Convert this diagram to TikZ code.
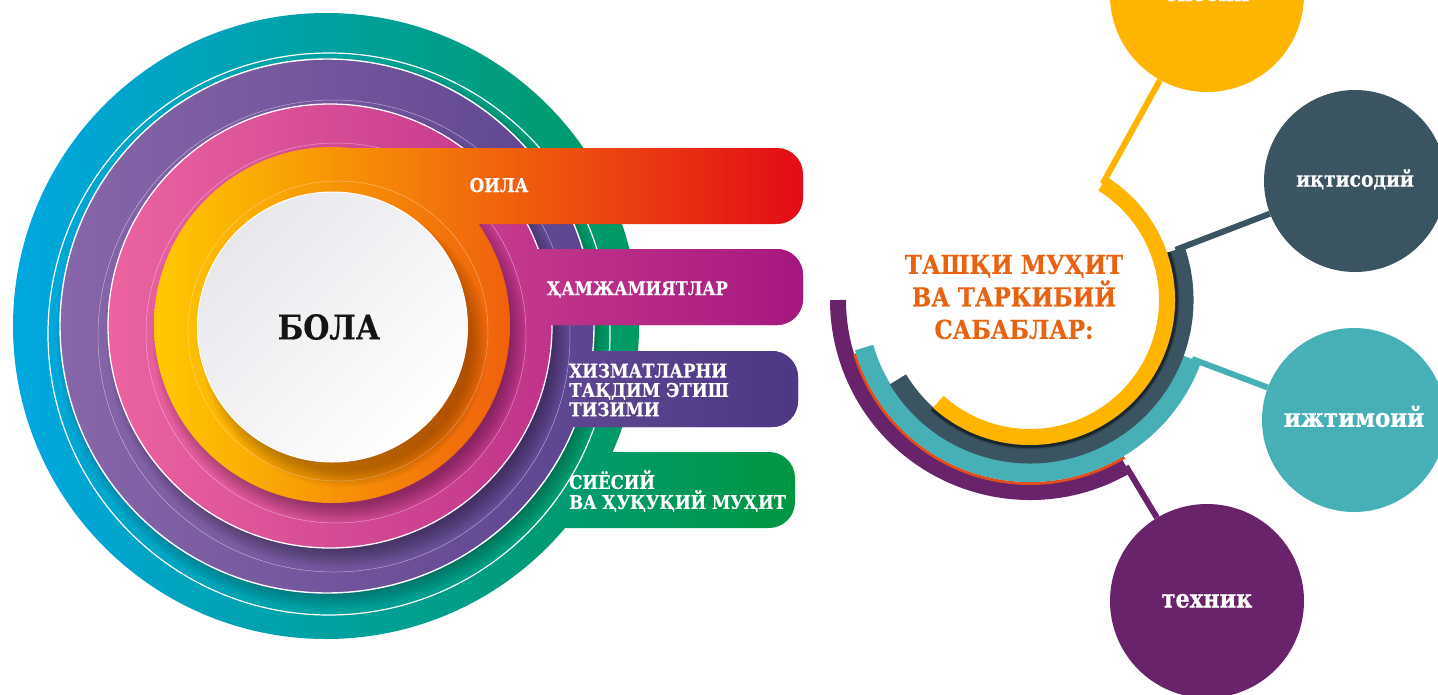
\documentclass[tikz,border=0pt]{standalone}
\usepackage{fontspec}
\setmainfont{DejaVu Serif}[FakeStretch=0.88, BoldFeatures={FakeBold=0.5}]
\usetikzlibrary{calc}
\definecolor{tealL}{HTML}{00A8E1}
\definecolor{tealM}{HTML}{00A09F}
\definecolor{tealR}{HTML}{00963F}
\definecolor{purL}{HTML}{8766A9}
\definecolor{purM}{HTML}{654C98}
\definecolor{purR}{HTML}{4C3785}
\definecolor{pinkL}{HTML}{EB64A0}
\definecolor{pinkM}{HTML}{C9348A}
\definecolor{pinkR}{HTML}{A6177E}
\definecolor{oraL}{HTML}{FFC900}
\definecolor{oraM}{HTML}{F07D00}
\definecolor{oraR}{HTML}{E30A17}
\definecolor{wcA}{HTML}{E8E7EC}
\definecolor{yel}{HTML}{FFB400}
\definecolor{slate}{HTML}{3B5462}
\definecolor{tealC}{HTML}{46B0B6}
\definecolor{purC}{HTML}{68236B}
\definecolor{redthin}{HTML}{DF4F1E}
\definecolor{txtor}{HTML}{E8620F}
\newcommand{\barpath}[4]{(#1,#2) -- ({#4-26},#2) arc[start angle=-90,end angle=0,radius=26] -- (#4,{#3-26}) arc[start angle=0,end angle=90,radius=26] -- (#1,#3) -- cycle}
% centre x, centre y, radius, offset, opacity
\newcommand{\softshadow}[5]{%
  \foreach \k in {0,...,13}{\fill[black,opacity=#5] ({#1+#4},{#2+1.5*#4}) circle[radius={#3-8+1.3*\k}];}}
\tikzset{
  bartext/.style={text=white, inner sep=0pt},
  bubble/.style={circle, inner sep=0pt, text=white, text depth=0pt},
  link/.style={line width=6pt},
}
\begin{document}
\begin{tikzpicture}[x=1pt,y=-1pt]
\useasboundingbox (0,0) rectangle (1438,694);
\clip (0,0) rectangle (1438,694);

% ---------- teal layer ----------
\begin{scope}
  \clip (326,326) circle[radius=313] \barpath{330}{452}{528}{795};
  \shade[left color=tealL, middle color=tealM, right color=tealR] (12,0) rectangle (805,694);
\end{scope}
\draw[white, line width=1.2pt] (329,334) circle[radius=281];
\softshadow{327}{326}{267}{5}{0.018}
% ---------- purple layer ----------
\begin{scope}
  \clip (327,326) circle[radius=267] \barpath{330}{351}{427}{798};
  \shade[left color=purL, middle color=purM, right color=purR] (60,0) rectangle (805,694);
\end{scope}
\draw[white, line width=1.4pt] (327,326) circle[radius=267];
\begin{scope}
  \clip \barpath{330}{351}{427}{798};
  \shade[left color=purL, middle color=purM, right color=purR] (60,0) rectangle (805,694);
\end{scope}
\draw[white, opacity=0.5, line width=0.5pt] (334,336) circle[radius=236];
\softshadow{330}{326}{222}{7}{0.022}
% ---------- pink layer ----------
\begin{scope}
  \clip (330,326) circle[radius=222] \barpath{330}{249}{325}{803};
  \shade[left color=pinkL, middle color=pinkM, right color=pinkR] (108,0) rectangle (805,694);
\end{scope}
\draw[white, line width=1.3pt] (330,326) circle[radius=222];
\begin{scope}
  \clip \barpath{330}{249}{325}{803};
  \shade[left color=pinkL, middle color=pinkM, right color=pinkR] (108,0) rectangle (805,694);
\end{scope}
\draw[white, opacity=0.45, line width=0.5pt] (336,333) circle[radius=190];
\softshadow{332}{325}{178}{7}{0.024}
% ---------- orange layer ----------
\begin{scope}
  \clip (332,325) circle[radius=178] \barpath{332}{148}{224}{803};
  \shade[left color=oraL, middle color=oraM, right color=oraR] (154,0) rectangle (805,694);
\end{scope}
\draw[white, opacity=0.4, line width=0.5pt] (338,331) circle[radius=150];
\softshadow{333}{327}{135}{11}{0.019}
% ---------- white centre ----------
\shade[top color=wcA, bottom color=white, shading angle=45] (332.5,327) circle[radius=135];
\draw[white, line width=1pt] (332.5,327) circle[radius=135];

\node[font=\bfseries\fontsize{34}{36}\selectfont, text=black!92] (bola) at (329,327) {БОЛА};
\node[bartext, anchor=base, font=\bfseries\fontsize{19}{21}\selectfont] (oila) at (499,192) {ОИЛА};
\node[bartext, anchor=base west, font=\bfseries\fontsize{18.6}{21}\selectfont] (ham) at (547,295) {ҲАМЖАМИЯТЛАР};
\node[bartext, anchor=west, align=left, font=\bfseries\fontsize{19}{19.3}\selectfont] (xiz) at (569,390) {ХИЗМАТЛАРНИ\\ТАҚДИМ ЭТИШ\\ТИЗИМИ};
\node[bartext, anchor=west, align=left, font=\bfseries\fontsize{18.8}{20}\selectfont] (siy) at (569,491) {СИЁСИЙ\\ВА ҲУҚУҚИЙ МУҲИТ};

% ---------- right part ----------
\coordinate (C) at (1030,300);
\draw[purC, line width=16pt] (C) ++(60:192) arc[start angle=60, end angle=180, radius=192];
\draw[redthin, line width=3pt] (C) ++(59:183.5) arc[start angle=59, end angle=163, radius=183.5];
\draw[tealC, line width=19pt] (C) ++(20:172.5) arc[start angle=20, end angle=164, radius=172.5];
\draw[slate, line width=19pt] (C) ++(-19:154) arc[start angle=-19, end angle=149, radius=154];
\foreach \w/\o in {6/0.12,4/0.2,2.5/0.35}{
  \draw[black, opacity=\o, line width=\w pt] (C) ++(-19:146.5) arc[start angle=-19, end angle=132, radius=146.5];}
\draw[yel, line width=16pt] (C) ++(-58:137) arc[start angle=-58, end angle=132, radius=137];

\path (C) ++(-58:137) coordinate (yEnd);
\path (C) ++(-19:154) coordinate (sEnd);
\path (C) ++(20:172.5) coordinate (tEnd);
\path (C) ++(60:192) coordinate (pEnd);

\node[font=\bfseries\fontsize{26}{32.5}\selectfont, text=txtor, align=center] (title) at (1014,297) {ТАШҚИ МУҲИТ\\ВА ТАРКИБИЙ\\САБАБЛАР:};

\node[bubble, fill=yel, minimum size=194pt, text height=12pt, font=\bfseries\fontsize{23.5}{26}\selectfont] (siyosiy) at (1207,-5) {сиёсий};
\node[bubble, fill=slate, minimum size=182pt, text height=11pt, font=\bfseries\fontsize{21.3}{23}\selectfont] (iqt) at (1355,181) {иқтисодий};
\node[bubble, fill=tealC, minimum size=184pt, text height=13.5pt, font=\bfseries\fontsize{26}{28}\selectfont] (ijt) at (1354,420) {ижтимоий};
\node[bubble, fill=purC, minimum size=194pt, text height=13pt, font=\bfseries\fontsize{25.5}{28}\selectfont] (tex) at (1207,601) {техник};

\draw[link, yel] (yEnd) -- (siyosiy);
\draw[link, slate] (sEnd) -- (iqt);
\draw[link, tealC] (tEnd) -- (ijt);
\draw[link, purC] (pEnd) -- (tex);
\end{tikzpicture}
\end{document}
